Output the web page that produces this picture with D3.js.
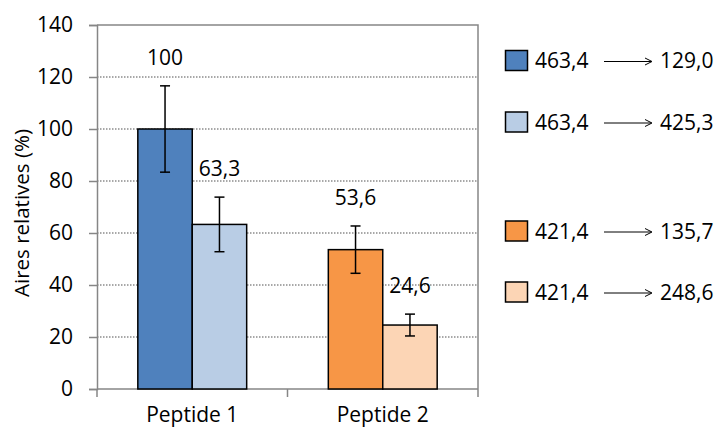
<!DOCTYPE html>
<html><head><meta charset="utf-8">
<script src="https://cdn.jsdelivr.net/npm/d3@7"></script>
<style>body{margin:0;background:#fff}svg{display:block}text{font-family:"Open Sans",sans-serif;fill:#000}</style>
</head><body><svg id="c" width="721" height="429"></svg>
<script>
const categories = ["Peptide 1", "Peptide 2"];
const valuesA = [100, 53.6];      // first bar of each peptide
const valuesB = [63.3, 24.6];     // second bar of each peptide
const errorsA = [16.6, 9.1];
const errorsB = [10.5, 4.2];
const labelsA = ["100", "53,6"];
const labelsB = ["63,3", "24,6"];
const colorsA = ["#4F81BD", "#F79646"];
const colorsB = ["#B9CDE5", "#FCD5B5"];
const yTicks = [0, 20, 40, 60, 80, 100, 120, 140];
const legendFrom = ["463,4", "463,4", "421,4", "421,4"];
const legendTo = ["129,0", "425,3", "135,7", "248,6"];
const legendColors = ["#4F81BD", "#B9CDE5", "#F79646", "#FCD5B5"];

const svg = d3.select("#c");
const L = 97, R = 478, T = 25, B = 389;
const FS = 21;
const y = d3.scaleLinear().domain([0, 140]).range([B, T]);
const x = d3.scaleBand().domain(categories).range([L, R]).padding(0);
const xi = d3.scaleBand().domain([0, 1]).range([0, x.bandwidth()]).paddingInner(0).paddingOuter(0.75);

// gridlines
svg.append("g").selectAll("line").data(yTicks.filter(t => t > 0 && t < 140)).join("line")
  .attr("x1", L).attr("x2", R).attr("y1", d => y(d)).attr("y2", d => y(d))
  .attr("stroke", "#8c8c8c").attr("stroke-width", 1.3).attr("stroke-dasharray", "1.5,1.5");

// frame top/right
svg.append("path").attr("d", `M${L},${T}H${R}V${B}`).attr("fill", "none").attr("stroke", "#868686").attr("stroke-width", 1.5);

// y axis
const yAxis = d3.axisLeft(y).tickValues(yTicks).tickSize(8).tickPadding(16).tickFormat(d3.format("d"));
const gy = svg.append("g").attr("transform", `translate(${L},0)`).call(yAxis);
gy.select(".domain").attr("stroke", "#868686").attr("stroke-width", 1.5);
gy.selectAll(".tick line").attr("stroke", "#868686").attr("stroke-width", 1.5);
gy.selectAll(".tick text").style("font-size", FS + "px").style("font-family", '"Open Sans",sans-serif').attr("fill", "#000");

// x axis
const xAxis = d3.axisBottom(x).tickSize(0).tickPadding(0);
const gx = svg.append("g").attr("transform", `translate(0,${B})`).call(xAxis);
gx.select(".domain").remove();
gx.selectAll(".tick text").attr("dy", null).attr("y", 33)
  .style("font-size", FS + "px").style("font-family", '"Open Sans",sans-serif').attr("fill", "#000");
// category boundary ticks
const bounds = [L, ...categories.map(c => x(c) + x.bandwidth())];
svg.append("g").selectAll("line").data(bounds).join("line")
  .attr("x1", d => d).attr("x2", d => d).attr("y1", B).attr("y2", B + 8)
  .attr("stroke", "#868686").attr("stroke-width", 1.5);
svg.append("line").attr("x1", L).attr("x2", R).attr("y1", B).attr("y2", B).attr("stroke", "#868686").attr("stroke-width", 1.5);

// bars
const bars = [];
categories.forEach((c, i) => {
  bars.push({c, s: 0, v: valuesA[i], e: errorsA[i], lab: labelsA[i], col: colorsA[i]});
  bars.push({c, s: 1, v: valuesB[i], e: errorsB[i], lab: labelsB[i], col: colorsB[i]});
});
const gb = svg.append("g");
gb.selectAll("rect").data(bars).join("rect")
  .attr("x", d => x(d.c) + xi(d.s)).attr("width", xi.bandwidth())
  .attr("y", d => y(d.v)).attr("height", d => y(0) - y(d.v))
  .attr("fill", d => d.col).attr("stroke", "#000").attr("stroke-width", 1.5);

// error bars
const cx = d => x(d.c) + xi(d.s) + xi.bandwidth() / 2;
const ge = svg.append("g").attr("stroke", "#000").attr("stroke-width", 1.5);
bars.forEach(d => {
  ge.append("line").attr("x1", cx(d)).attr("x2", cx(d)).attr("y1", y(d.v + d.e)).attr("y2", y(d.v - d.e));
  ge.append("line").attr("x1", cx(d) - 5).attr("x2", cx(d) + 5).attr("y1", y(d.v + d.e)).attr("y2", y(d.v + d.e));
  ge.append("line").attr("x1", cx(d) - 5).attr("x2", cx(d) + 5).attr("y1", y(d.v - d.e)).attr("y2", y(d.v - d.e));
});

// value labels
svg.append("g").selectAll("text").data(bars).join("text")
  .attr("x", d => cx(d)).attr("y", d => y(d.v + d.e) - 21)
  .attr("text-anchor", "middle").style("font-size", FS + "px").text(d => d.lab);

// y title
svg.append("text").attr("transform", `translate(29,${(T + B) / 2 + 6}) rotate(-90)`)
  .attr("text-anchor", "middle").style("font-size", "20.5px").text("Aires relatives (%)");

// legend
const rowY = [60.5, 122, 231, 292];
const lg = svg.append("g");
legendFrom.forEach((f, i) => {
  const yy = rowY[i];
  lg.append("rect").attr("x", 505.5).attr("y", yy - 10).attr("width", 22).attr("height", 20)
    .attr("fill", legendColors[i]).attr("stroke", "#000").attr("stroke-width", 1.5);
  lg.append("text").attr("x", 535).attr("y", yy + 7.5).style("font-size", FS + "px").text(f);
  lg.append("line").attr("x1", 604).attr("x2", 651).attr("y1", yy + 1).attr("y2", yy + 1).attr("stroke", "#000").attr("stroke-width", 1);
  lg.append("path").attr("d", `M645,${yy - 2.5}L652,${yy + 1}L645,${yy + 4.5}`).attr("fill", "none").attr("stroke", "#000").attr("stroke-width", 1);
  lg.append("text").attr("x", 660).attr("y", yy + 7.5).style("font-size", FS + "px").text(legendTo[i]);
});
</script></body></html>
